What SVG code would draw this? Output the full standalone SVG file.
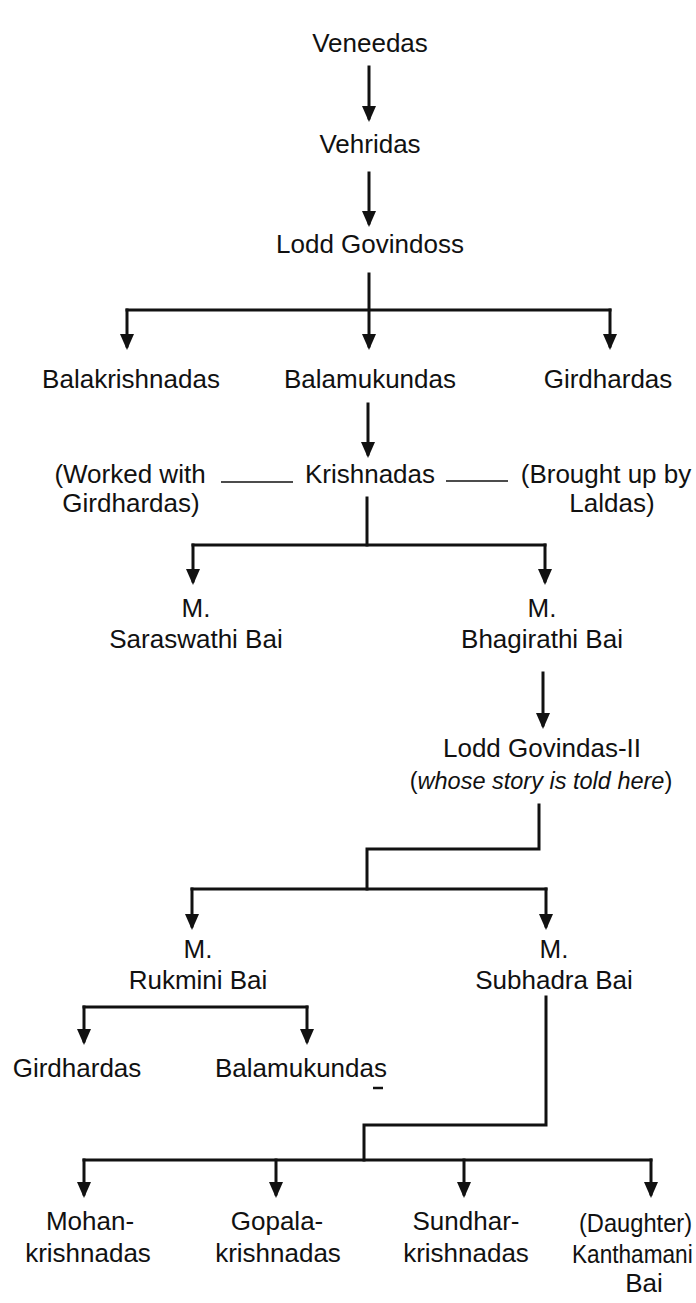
<svg xmlns="http://www.w3.org/2000/svg" width="696" height="1303" viewBox="0 0 696 1303">
<style>
text{font-family:"Liberation Sans",Arial,sans-serif;font-size:26px;fill:#111;text-anchor:middle}
.it{font-style:italic}
.s{text-anchor:start}
.c{stroke:#111;stroke-width:3;fill:none;stroke-linecap:square;stroke-linejoin:miter}
.a{marker-end:url(#ah)}
.t{stroke:#111;stroke-width:1.6;fill:none}
</style>
<defs>
<marker id="ah" viewBox="0 0 16 14" markerWidth="16" markerHeight="14" refX="12" refY="7" orient="auto" markerUnits="userSpaceOnUse">
<path d="M0,0 L16,7 L0,14 z" fill="#111"/>
</marker>
</defs>
<rect width="696" height="1303" fill="#fff"/>
<g id="connectors">
<path class="c a" d="M369,67 V118"/>
<path class="c a" d="M369,173 V223"/>
<path class="c a" d="M369,274 V346"/>
<path class="c" d="M127,310 H610"/>
<path class="c a" d="M127,310 V346"/>
<path class="c a" d="M610,310 V346"/>
<path class="c a" d="M368,404 V454"/>
<path class="t" d="M221,482 H293"/>
<path class="t" d="M446,481 H508"/>
<path class="c" d="M367,498 V545"/>
<path class="c" d="M193,545 H545"/>
<path class="c a" d="M193,545 V581"/>
<path class="c a" d="M545,545 V581"/>
<path class="c a" d="M543,673 V725"/>
<path class="c" d="M539,805 V849 H367 V889"/>
<path class="c" d="M192,889 H546"/>
<path class="c a" d="M192,889 V926"/>
<path class="c a" d="M546,889 V926"/>
<path class="c" d="M84,1007 H307"/>
<path class="c a" d="M84,1007 V1041"/>
<path class="c a" d="M307,1007 V1041"/>
<path class="c" d="M546,997 V1125 H364 V1160"/>
<path class="c" d="M84,1160 H651"/>
<path class="c a" d="M84,1160 V1194"/>
<path class="c a" d="M276,1160 V1194"/>
<path class="c a" d="M464,1160 V1194"/>
<path class="c a" d="M651,1160 V1194"/>
</g>
<g id="veneedas"><text x="370" y="52">Veneedas</text></g>
<g id="vehridas"><text x="370" y="153">Vehridas</text></g>
<g id="lodd-govindoss"><text x="370" y="253">Lodd Govindoss</text></g>
<g id="balakrishnadas"><text x="131" y="388">Balakrishnadas</text></g>
<g id="balamukundas"><text x="370" y="388">Balamukundas</text></g>
<g id="girdhardas"><text x="608" y="388">Girdhardas</text></g>
<g id="note-worked"><text x="130" y="483">(Worked with</text><text x="131" y="512">Girdhardas)</text></g>
<g id="krishnadas"><text x="370" y="483">Krishnadas</text></g>
<g id="note-brought"><text x="606" y="483">(Brought up by</text><text x="612" y="512">Laldas)</text></g>
<g id="saraswathi"><text x="196" y="617">M.</text><text x="196" y="648">Saraswathi Bai</text></g>
<g id="bhagirathi"><text x="542" y="617">M.</text><text x="542" y="648">Bhagirathi Bai</text></g>
<g id="lodd-govindas-ii"><text x="542" y="757">Lodd Govindas-II</text><text x="541" y="789" style="font-size:23.5px">(<tspan class="it">whose story is told here</tspan>)</text></g>
<g id="rukmini"><text x="198" y="958">M.</text><text x="198" y="989">Rukmini Bai</text></g>
<g id="subhadra"><text x="554" y="958">M.</text><text x="554" y="989">Subhadra Bai</text></g>
<g id="girdhardas-2"><text x="77" y="1077">Girdhardas</text></g>
<g id="balamukundas-2"><text x="301" y="1077">Balamukundas</text><path d="M373,1088 H383" stroke="#111" stroke-width="2.5"/></g>
<g id="mohankrishnadas"><text x="90" y="1230">Mohan-</text><text x="88" y="1262">krishnadas</text></g>
<g id="gopalakrishnadas"><text x="277" y="1230">Gopala-</text><text x="278" y="1262">krishnadas</text></g>
<g id="sundharkrishnadas"><text x="466" y="1230">Sundhar-</text><text x="466" y="1262">krishnadas</text></g>
<g id="kanthamani">
<text class="s" transform="translate(579,1232) scale(0.91,1)" x="0" y="0">(Daughter)</text>
<text class="s" transform="translate(572,1263) scale(0.87,1)" x="0" y="0">Kanthamani</text>
<text x="644" y="1292">Bai</text>
</g>
</svg>
